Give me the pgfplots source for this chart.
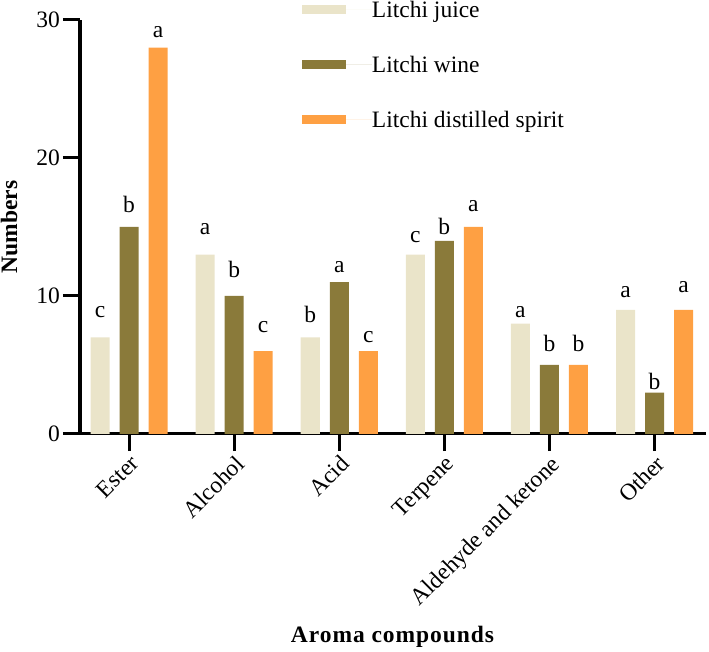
\documentclass[border=0pt]{standalone}
\usepackage{fontspec}
\setmainfont{Liberation Serif}
\usepackage{pgfplots}
\usepackage{pgfplotstable}
\pgfplotsset{compat=1.18}
\definecolor{juice}{HTML}{EAE4C9}
\definecolor{wine}{HTML}{8A7A3A}
\definecolor{spirit}{HTML}{FEA043}
\pgfplotstableread{
x y lab off
0 7 c 20
1 13 a 20
2 7 b 15
3 13 c 12
4 8 a 6
5 9 a 12
}\juicedata
\pgfplotstableread{
x y lab off
0 15 b 14
1 10 b 18
2 11 a 10
3 14 b 6
4 5 b 13
5 3 b 3
}\winedata
\pgfplotstableread{
x y lab off
0 28 a 10
1 6 c 19
2 6 c 9
3 15 a 15
4 5 b 13
5 9 a 17
}\spiritdata
\newcommand{\bigfont}{\fontsize{23.5}{28}\selectfont}
\begin{document}
\begin{tikzpicture}
\begin{axis}[
  at={(0,0)}, anchor=south west,
  scale only axis, width=626pt, height=414pt,
  ybar=10pt, bar width=19pt,
  xmin=-0.467, xmax=5.49, ymin=0, ymax=30,
  axis x line*=bottom, axis y line*=left,
  axis line style={line width=3pt, black},
  tick style={line width=3pt, black},
  major tick length=17pt, tick align=outside,
  xtick={0,1,2,3,4,5},
  xticklabels={Ester, Alcohol, Acid, Terpene, Aldehyde and ketone, Other},
  ytick={0,10,20,30},
  /pgf/number format/assume math mode=true,
  tick label style={font=\bigfont},
  xticklabel style={rotate=45, anchor=north east, inner sep=2pt},
  yticklabel style={inner sep=3pt},
  ylabel={\textbf{Numbers}},
  ylabel style={at={(axis description cs:-0.1134,0.5)}, anchor=center, font=\bigfont},
  xlabel={\addfontfeature{LetterSpace=4}\textbf{Aroma compounds}},
  xlabel style={at={(axis description cs:0.5,0)}, yshift=-203pt, anchor=center, font=\bigfont},
  legend style={at={(axis description cs:0.3546,1.041)}, anchor=north west,
    draw=none, fill=none, inner sep=0pt, outer sep=0pt, font=\bigfont,
    row sep=37pt,
    nodes={inner sep=0pt, text height=14pt, text depth=4pt}},
  legend cell align=left,
  legend image code/.code={\fill[#1, draw=none] (0pt,-2pt) rectangle (44pt,7pt); \path (0pt,2.5pt) -- (70pt,2.5pt);},
  nodes near coords,
  point meta=explicit symbolic,
  visualization depends on={\thisrow{off}\as\myoff},
  every node near coord/.append style={font=\bigfont, anchor=base, inner sep=0pt, yshift=\myoff pt},
  clip=false,
]
\addplot[fill=juice, draw=none] table[x=x, y=y, meta=lab] {\juicedata};
\addplot[fill=wine, draw=none] table[x=x, y=y, meta=lab] {\winedata};
\addplot[fill=spirit, draw=none] table[x=x, y=y, meta=lab] {\spiritdata};
\legend{Litchi juice, Litchi wine, Litchi distilled spirit}
\end{axis}
\pgfresetboundingbox
\path[use as bounding box] (-80pt,-218pt) rectangle (629pt,434pt);
\end{tikzpicture}
\end{document}
